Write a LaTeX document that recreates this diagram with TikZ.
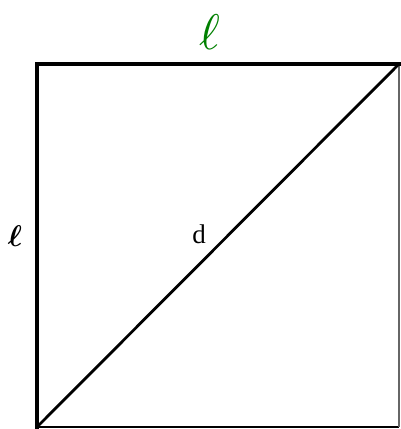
\documentclass[tikz,border=0pt]{standalone}
\usepackage{amsmath,bm}
\usepackage{fontspec}
\setmainfont{Liberation Serif}
\begin{document}
\begin{tikzpicture}[x=1pt,y=-1pt,
  thickedge/.style={line width=4pt,line cap=rect},
  thinedge/.style={line width=1.5pt},
  rightedge/.style={line width=1.2pt,draw=black!60},
  diag/.style={line width=2.8pt}]
\useasboundingbox (0,0) rectangle (400,429);
\coordinate (BL) at (37,427);
\coordinate (TL) at (37,64);
\coordinate (TR) at (399,64);
\coordinate (BR) at (399,427);
\draw[thinedge] (BL) -- (BR);
\draw[rightedge] (BR) -- (TR);
\draw[diag] (BL) -- (TR);
\draw[thickedge] (BL) -- (TL) -- (TR);
\node (top) at (210,32) {\textcolor{green!50!black}{\scalebox{5}{$\ell$}}};
\node (left) at (15,236) {\scalebox{3}{$\bm{\ell}$}};
\node (d) at (199,234) {\fontsize{27}{27}\selectfont d};
\end{tikzpicture}
\end{document}
